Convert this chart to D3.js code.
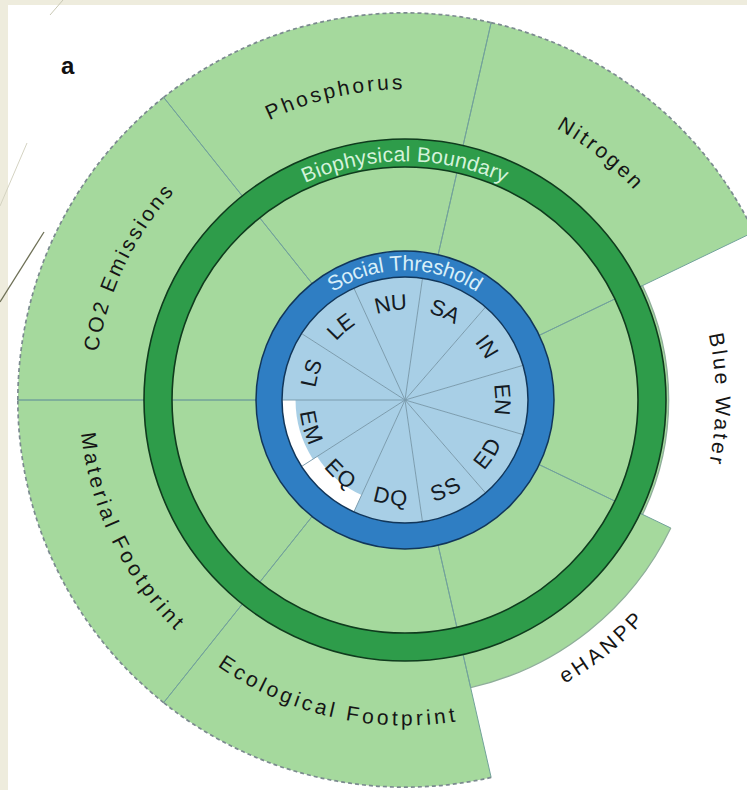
<!DOCTYPE html>
<html><head><meta charset="utf-8">
<script src="https://cdn.jsdelivr.net/npm/d3@7"></script>
<style>
html,body{margin:0;padding:0;background:#eeecdd;}
svg{display:block;font-family:"Liberation Sans",Arial,Helvetica,sans-serif;}
</style></head><body>
<svg id="c" width="747" height="790"></svg>
<script>
// ---- data ----
const socialCats = ["LS","LE","NU","SA","IN","EN","ED","SS","DQ","EQ","EM"];
// achievement relative to the social threshold (1 = threshold reached)
const socialValues = [1, 1, 1, 1, 1, 1, 1, 1, 1, 0.85, 0.89];
const bioCats = ["CO2 Emissions","Phosphorus","Nitrogen","Blue Water","eHANPP","Ecological Footprint","Material Footprint"];
// resource use relative to the biophysical boundary (1 = boundary)
const bioValues = [2.6, 2.6, 2.6, 1.17, 1.49, 2.6, 2.6];
const bioCap = 2.43;            // values beyond this are clipped (dashed edge)
const boundaryLabel = "Biophysical Boundary";
const thresholdLabel = "Social Threshold";
const panelLabel = "a";

// ---- layout ----
const W = 747, H = 790, cx = 405, cy = 400;
const svg = d3.select("#c");
svg.append("rect").attr("width", W).attr("height", H).attr("fill", "#eeecdd");
svg.append("rect").attr("x", 8).attr("y", 5).attr("width", W).attr("height", H).attr("fill", "#ffffff");
// decorative slide lines
svg.append("line").attr("x1", 63).attr("y1", 0).attr("x2", 50).attr("y2", 15).attr("stroke", "#c9c8b4").attr("stroke-width", 1);
svg.append("line").attr("x1", 27).attr("y1", 143).attr("x2", 0).attr("y2", 206).attr("stroke", "#d4d3c2").attr("stroke-width", 1);
svg.append("line").attr("x1", 44).attr("y1", 232).attr("x2", 0).attr("y2", 302).attr("stroke", "#6e7056").attr("stroke-width", 1.3);

svg.append("text").attr("x", 61).attr("y", 74).attr("font-size", 24).attr("font-weight", "bold")
  .attr("fill", "#111").text(panelLabel);

const g = svg.append("g").attr("transform", `translate(${cx},${cy})`);
const TAU = 2 * Math.PI, start = -Math.PI / 2;
const bioStep = TAU / bioCats.length, socStep = TAU / socialCats.length;
const rBio = d3.scaleLinear().domain([0, 1]).range([149, 247]);
const rSoc = d3.scaleLinear().domain([0, 1]).range([0, 123]);
const arc = d3.arc();
const pt = (a, r) => [r * Math.sin(a), -r * Math.cos(a)];

const lightGreen = "#a5d99d", darkGreen = "#2e9c4a", lineCol = "#72a29a";

// biophysical wedges
bioCats.forEach((c, i) => {
  const a0 = start + i * bioStep, a1 = a0 + bioStep;
  const v = Math.min(bioValues[i], bioCap);
  g.append("path").attr("d", arc({innerRadius: rBio(0), outerRadius: rBio(v), startAngle: a0, endAngle: a1}))
    .attr("fill", lightGreen);
});
bioCats.forEach((c, i) => {
  const a0 = start + i * bioStep, a1 = a0 + bioStep;
  const v = Math.min(bioValues[i], bioCap);
  [a0, a1].forEach(a => {
    const p0 = pt(a, rBio(0)), p1 = pt(a, rBio(v));
    g.append("line").attr("x1", p0[0]).attr("y1", p0[1]).attr("x2", p1[0]).attr("y2", p1[1])
      .attr("stroke", lineCol).attr("stroke-width", 1);
  });
  const p = d3.path();
  p.arc(0, 0, rBio(v), a0 - Math.PI / 2, a1 - Math.PI / 2, false);
  const capped = bioValues[i] >= bioCap;
  g.append("path").attr("d", p.toString()).attr("fill", "none")
    .attr("stroke", capped ? "#7b8a8f" : "#8fae9a").attr("stroke-width", capped ? 1.7 : 1.3)
    .attr("stroke-dasharray", capped ? "4,3" : null);
});

// biophysical boundary band
const bandIn = 233, bandOut = 261;
g.append("path").attr("d", arc({innerRadius: bandIn, outerRadius: bandOut, startAngle: 0, endAngle: TAU}))
  .attr("fill", darkGreen);
[bandIn, bandOut].forEach(r => g.append("circle").attr("r", r).attr("fill", "none")
  .attr("stroke", "#0f3b1d").attr("stroke-width", 1.6));

// social foundation
g.append("circle").attr("r", rSoc(1)).attr("fill", "#ffffff");
socialCats.forEach((c, i) => {
  const a0 = start + i * socStep, a1 = a0 + socStep;
  g.append("path").attr("d", arc({innerRadius: 0, outerRadius: rSoc(Math.min(socialValues[i], 1)), startAngle: a0, endAngle: a1}))
    .attr("fill", "#a8cfe6");
});
socialCats.forEach((c, i) => {
  const a = start + i * socStep;
  const p1 = pt(a, rSoc(1));
  g.append("line").attr("x1", 0).attr("y1", 0).attr("x2", p1[0]).attr("y2", p1[1])
    .attr("stroke", "#7b9cae").attr("stroke-width", 1);
});
const ringIn = 123, ringOut = 149;
g.append("path").attr("d", arc({innerRadius: ringIn, outerRadius: ringOut, startAngle: 0, endAngle: TAU}))
  .attr("fill", "#2f7ec3");
[ringIn, ringOut].forEach(r => g.append("circle").attr("r", r).attr("fill", "none")
  .attr("stroke", "#11365a").attr("stroke-width", 1.5));

// ---- curved labels ----
let pid = 0;
function curvedText(txt, a, r, opts) {
  let na = ((a % TAU) + TAU) % TAU;
  const flip = na > Math.PI / 2 + 0.02 && na < 3 * Math.PI / 2 - 0.02;
  const p = d3.path();
  if (!flip) p.arc(0, 0, r, a - Math.PI, a, false);
  else p.arc(0, 0, r, a, a - Math.PI, true);
  const id = "tp" + (pid++);
  g.append("path").attr("id", id).attr("d", p.toString()).attr("fill", "none");
  g.append("text").attr("font-size", opts.size).attr("fill", opts.color)
    .attr("letter-spacing", opts.ls || 0).attr("dy", "0.35em")
    .append("textPath").attr("href", "#" + id).attr("startOffset", "50%")
    .attr("text-anchor", "middle").text(txt);
}
bioCats.forEach((c, i) => {
  const a = start + (i + 0.5) * bioStep;
  curvedText(c, a, 318, {size: 21, color: "#151515", ls: 3.2});
});
socialCats.forEach((c, i) => {
  const a = start + (i + 0.5) * socStep;
  curvedText(c, a, 98, {size: 22, color: "#141b24", ls: 1});
});
curvedText(boundaryLabel, 0, 246, {size: 21, color: "#d4f3da", ls: 0.5});
curvedText(thresholdLabel, 0, 137, {size: 21, color: "#d8eff9", ls: 0.3});
</script>
</body></html>
